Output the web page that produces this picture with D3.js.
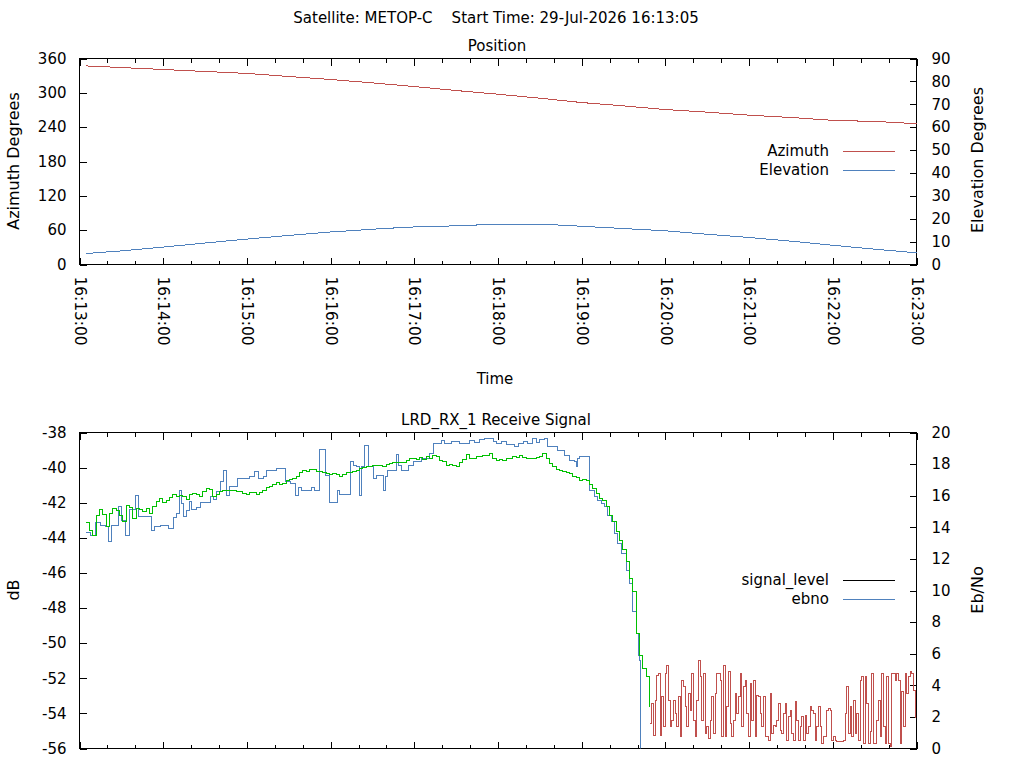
<!DOCTYPE html>
<html lang="en">
<head>
  <meta charset="UTF-8">
  <title>METOP-C pass</title>
  <style>
    body { margin: 0; background: #fff; }
    svg text { font-family: 'DejaVu Sans', sans-serif; font-size: 15px; fill: #000; white-space: pre; }
    svg path.trace { fill: none; shape-rendering: crispEdges; }
  </style>
</head>
<body>
  <svg id="svg" width="1024" height="768"></svg>
  <script src="https://cdn.jsdelivr.net/npm/d3@7"></script>
  <script>
    // all times are seconds after 16:13:00 on the pass day
    const passDay = new Date(2026, 6, 29, 16, 13, 0)

    // Position panel
    const posTimes = [5, 30, 60, 90, 120, 150, 180, 210, 240, 270, 300, 330, 360, 390, 420, 450, 480, 510, 540, 570, 600]
    const azimuth = [347, 344.2, 340.8, 337.3, 333.8, 328.5, 323.3, 317.4, 311, 304, 297.6, 290.6, 283.1, 277.2, 270.9, 266.2, 261, 256.9, 252, 249.9, 246]
    const elevation = [4.8, 5.95, 7.6, 9.4, 11.1, 12.7, 14.2, 15.4, 16.4, 16.9, 17.5, 17.5, 16.7, 15.7, 14.7, 13.2, 11.8, 10.2, 8.4, 6.7, 5.1]

    // signal level in dB, stepped: [time, dB] at each change
    const signalLevel = [
      [4.8, -43.69], [8.1, -43.85], [11.3, -43.13], [14.8, -43.28], [18.4, -43.37], [20.8, -44.21], [23.2, -43.28],
      [27.9, -42.24], [30.3, -42.99], [32.7, -43.85], [35.8, -42.4], [39.9, -41.57], [42.3, -42.77], [51.8, -43.56],
      [53.5, -43.37], [57.8, -43.32], [63.8, -43.45], [67.3, -42.84], [69.7, -42.61], [71.6, -41.32], [73.3, -42.04],
      [74.5, -42.77], [76.9, -42.42], [78.8, -41.95], [80.5, -42.39], [84.1, -42.27], [86.4, -42.01], [93.6, -41.67],
      [96.0, -41.82], [98.4, -41.38], [100.8, -40.77], [103.1, -40.19], [105.5, -41.57], [107.4, -41.06], [113.2, -40.62],
      [122.2, -40.49], [125.8, -40.2], [128.2, -40.62], [131.8, -40.53], [134.2, -40.15], [141.3, -40.05], [148.0, -40.81],
      [150.9, -40.9], [154.5, -41.57], [156.9, -41.13], [159.2, -41.29], [166.4, -41.13], [168.8, -41.29], [172.4, -38.97],
      [176.0, -40.43], [179.1, -41.99], [184.8, -41.29], [186.7, -41.53], [194.3, -39.67], [196.2, -39.86], [198.6, -39.96],
      [201.0, -41.57], [202.2, -39.96], [204.1, -38.72], [207.5, -39.96], [210.6, -40.62], [213.0, -40.43], [217.7, -41.29],
      [219.4, -40.53], [220.6, -40.15], [227.3, -39.24], [228.5, -39.87], [230.8, -40.19], [235.6, -39.87], [239.2, -39.67],
      [245.1, -39.48], [251.1, -39.2], [253.5, -38.63], [259.5, -38.44], [261.9, -38.63], [266.6, -38.53], [272.6, -38.63],
      [279.7, -38.48], [283.3, -38.59], [286.9, -38.4], [290.5, -38.34], [296.5, -38.53], [298.9, -38.63], [302.4, -38.53],
      [306.0, -38.67], [312.0, -38.82], [314.4, -38.63], [318.0, -38.53], [321.5, -38.63], [324.6, -38.34], [327.5, -38.59],
      [329.9, -38.4], [333.5, -38.34], [335.8, -38.82], [343.0, -39.01], [347.8, -39.29], [351.4, -39.58], [354.9, -39.67],
      [356.1, -39.96], [357.3, -39.48], [358.5, -39.39], [365.7, -41.29], [369.3, -41.67], [371.6, -41.86], [374.0, -42.04],
      [376.4, -42.24], [378.8, -42.71], [381.2, -43.09], [383.6, -43.75], [386.0, -44.32], [388.4, -44.89], [392.0, -45.84],
      [394.3, -46.6], [396.2, -48.22], [399.1, -49.45], [400.5, -50.68], [401.5, -50.97], [402.4, -58]
    ]

    // Eb/No while locked, one sample every 2.39 s from 4.8 s
    const ebnoStart = 4.8, ebnoPeriod = 2.39
    const ebno = [
      14.28, 13.82, 13.50, 14.77, 15.10, 14.81, 14.03, 14.87, 15.21, 15.08,
      14.77, 14.37, 15.40, 15.25, 14.56, 15.21, 15.13, 14.98, 15.19, 14.87,
      15.34, 15.65, 15.84, 15.59, 15.67, 15.89, 16.10, 15.95, 15.99, 15.97,
      15.76, 16.10, 16.16, 16.10, 15.92, 16.24, 16.43, 16.39, 15.97, 16.10,
      16.27, 16.35, 16.30, 16.33, 16.35, 16.29, 16.24, 16.14, 16.05, 16.22,
      16.18, 16.10, 16.18, 16.33, 16.49, 16.60, 16.73, 16.85, 16.71, 16.77,
      16.96, 17.03, 17.11, 17.22, 17.44, 17.61, 17.53, 17.68, 17.63, 17.55,
      17.51, 17.47, 17.42, 17.36, 17.38, 17.32, 17.19, 17.36, 17.44, 17.49,
      17.53, 17.59, 17.70, 17.80, 17.85, 17.82, 17.89, 17.93, 17.91, 17.87,
      17.95, 18.06, 18.12, 18.10, 18.08,
      18.12, 18.25, 18.33, 18.37, 18.29, 18.42, 18.29, 18.46, 18.37, 18.56,
      18.50, 18.20, 18.14, 17.93, 17.97, 17.91, 17.82, 18.08, 18.29, 18.61,
      18.33, 18.37, 18.46, 18.50, 18.56, 18.54, 18.67, 18.35, 18.25, 18.29,
      18.20, 18.37, 18.33, 18.46, 18.42, 18.56, 18.42, 18.33, 18.37, 18.33,
      18.42, 18.46, 18.67, 18.33, 18.04, 17.87, 17.66, 17.61, 17.53, 17.49,
      17.38, 17.23, 17.15, 16.98, 17.03, 16.94, 16.73, 16.46, 16.14, 15.80,
      15.67, 15.34, 14.77, 14.34, 13.71, 13.18, 12.59, 11.81, 10.76, 9.91,
      7.28, 5.91, 5.06, 4.53, 2.63
    ]

    // Eb/No after lock is lost, one sample every 1.195 s from 409 s
    const noLockStart = 409, noLockPeriod = 1.195
    const ebnoNoLock = [
      1.58, 2.85, 0.84, 3.06, 4.64, 4.74, 0.84, 3.27, 1.37, 4.74, 5.27, 3.06, 1.37, 1.79, 3.06, 2.21, 1.37, 3.27, 0.74, 4.32,
      3.90, 2.64, 1.37, 3.48, 2.42, 4.74, 1.79, 0.74, 3.06, 5.59, 4.53, 1.79, 4.74, 0.95, 1.37, 0.63, 1.79, 3.27, 0.95, 3.48,
      4.74, 4.74,
      4.32, 0.74, 5.27, 0.74, 2.64, 4.85, 1.58, 0.74, 1.79, 3.48,
      2.21, 3.27, 4.74, 1.37, 3.90, 4.32, 2.21, 0.74, 4.11, 1.79,
      4.32, 0.74, 3.37, 3.27, 2.21, 1.37, 3.27, 0.74, 0.74, 0.53,
      3.48, 0.95, 1.48, 1.37, 1.79, 2.85, 1.16, 0.95, 2.21, 2.85,
      0.53, 2.0, 2.42, 0.95, 0.53, 2.95, 1.79, 0.53, 1.37, 2.0,
      0.53, 2.11, 0.95, 1.37, 2.64, 2.42, 2.21, 0.53, 1.37, 2.64,
      1.37, 0.32, 0.74, 0.74, 2.42, 2.53, 2.42, 0.53, 0.74, 0.53,
      0.42, 0.42, 0.42, 0.42, 0.53,
      2.21, 3.90, 0.95, 2.64, 0.74, 3.06, 0.95, 2.21, 0.53, 4.32,
      4.53, 0.32, 4.53, 2.85, 0.32, 1.05, 4.74, 0.32, 0.32, 1.79,
      3.06, 0.74, 4.74, 1.37, 0.32, 4.53, 0.32, 0.1, 4.74, 4.74,
      4.32, 4.74, 4.32, 0.32, 3.58, 1.37, 4.74, 3.48, 4.53, 4.85,
      4.74, 3.69, 1.90
    ]

    const azTicks = [0, 60, 120, 180, 240, 300, 360]
    const elTicks = [0, 10, 20, 30, 40, 50, 60, 70, 80, 90]
    const dbTicks = [-56, -54, -52, -50, -48, -46, -44, -42, -40, -38]
    const ebTicks = [0, 2, 4, 6, 8, 10, 12, 14, 16, 18, 20]
    const posLegend = ['Azimuth', 'Elevation']
    const sigLegend = ['signal_level', 'ebno']

    const red = '#c0504d', blue = '#4f81bd', green = '#00c000'
    const left = 79.5, right = 916.5
    const top1 = 58.5, bot1 = 264.5
    const top2 = 432.5, bot2 = 748.5

    const at = s => new Date(passDay.getTime() + s * 1000)
    const svg = d3.select('#svg')

    const x = d3.scaleTime().domain([passDay, at(600)]).range([left, right])
    const yAz = d3.scaleLinear().domain([0, 360]).range([bot1, top1])
    const yEl = d3.scaleLinear().domain([0, 90]).range([bot1, top1])
    const yDb = d3.scaleLinear().domain([-56, -38]).range([bot2, top2])
    const yEb = d3.scaleLinear().domain([0, 20]).range([bot2, top2])

    const minutes = x.ticks(d3.timeMinute.every(1))
    const thirds = x.ticks(d3.timeSecond.every(20))
    const clock = d3.timeFormat('%H:%M:%S')
    const plain = d => String(d) // keep an ascii hyphen for negatives

    // inward ticks on all four sides, labels only under the top panel
    function timeAxes(yTop, yBot, labelled) {
      svg.append('g').attr('transform', `translate(0,${yBot})`)
        .call(d3.axisBottom(x).tickValues(thirds).tickSize(-4).tickFormat(''))
      svg.append('g').attr('transform', `translate(0,${yTop})`)
        .call(d3.axisTop(x).tickValues(thirds).tickSize(-4).tickFormat(''))
      svg.append('g').attr('transform', `translate(0,${yTop})`)
        .call(d3.axisTop(x).tickValues(minutes).tickSize(-7).tickFormat(''))
      const g = svg.append('g').attr('transform', `translate(0,${yBot})`)
        .call(d3.axisBottom(x).tickValues(minutes).tickSize(-7).tickFormat(labelled ? clock : ''))
      g.selectAll('text')
        .attr('transform', 'rotate(90)')
        .attr('x', 12).attr('y', 0).attr('dy', '0.35em')
        .style('text-anchor', 'start')
        .style('font-size', '15.4px')
    }

    function valueAxes(yLeft, leftTicks, yRight, rightTicks) {
      svg.append('g').attr('transform', `translate(${left},0)`)
        .call(d3.axisLeft(yLeft).tickValues(leftTicks).tickFormat(plain).tickSize(-7).tickPadding(13))
      svg.append('g').attr('transform', `translate(${right},0)`)
        .call(d3.axisRight(yRight).tickValues(rightTicks).tickFormat(plain).tickSize(-7).tickPadding(15))
    }

    timeAxes(top1, bot1, true)
    timeAxes(top2, bot2, false)
    valueAxes(yAz, azTicks, yEl, elTicks)
    valueAxes(yDb, dbTicks, yEb, ebTicks)

    svg.selectAll('.domain').remove()
    svg.selectAll('.tick line').attr('stroke', '#000').style('shape-rendering', 'crispEdges')

    // frames
    ;[[top1, bot1], [top2, bot2]].forEach(([t, b]) => {
      svg.append('rect')
        .attr('x', left).attr('y', t).attr('width', right - left).attr('height', b - t)
        .attr('fill', 'none').attr('stroke', '#000').style('shape-rendering', 'crispEdges')
    })

    svg.append('clipPath').attr('id', 'clip2')
      .append('rect').attr('x', left).attr('y', top2).attr('width', right - left).attr('height', bot2 - top2)

    // position lines
    const azLine = d3.line().curve(d3.curveMonotoneX).x(d => x(at(d[0]))).y(d => yAz(d[1]))
    const elLine = d3.line().curve(d3.curveMonotoneX).x(d => x(at(d[0]))).y(d => yEl(d[1]))
    svg.append('path').attr('class', 'trace').datum(d3.zip(posTimes, azimuth))
      .attr('d', azLine).attr('stroke', red)
    svg.append('path').attr('class', 'trace').datum(d3.zip(posTimes, elevation))
      .attr('d', elLine).attr('stroke', blue)

    // receive signal lines, drawn as steps
    const sig = svg.append('g').attr('clip-path', 'url(#clip2)')
    const dbLine = d3.line().curve(d3.curveStepAfter).x(d => x(at(d[0]))).y(d => yDb(d[1]))
    const ebLine = d3.line().curve(d3.curveStepAfter).x(d => x(at(d[0]))).y(d => yEb(d[1]))

    sig.append('path').attr('class', 'trace').datum(signalLevel)
      .attr('d', dbLine).attr('stroke', blue)
    sig.append('path').attr('class', 'trace').datum(ebno.map((v, i) => [ebnoStart + i * ebnoPeriod, v]))
      .attr('d', ebLine).attr('stroke', green)
    sig.append('path').attr('class', 'trace').datum(ebnoNoLock.map((v, i) => [noLockStart + i * noLockPeriod, v]))
      .attr('d', ebLine).attr('stroke', red)

    // legends
    function legend(items, colors, y0) {
      items.forEach((name, i) => {
        const y = y0 + i * 19
        svg.append('text').attr('x', 829).attr('y', y).attr('dy', '0.35em')
          .attr('text-anchor', 'end').text(name)
        svg.append('line').attr('x1', 843).attr('x2', 895).attr('y1', y + 0.5).attr('y2', y + 0.5)
          .attr('stroke', colors[i]).style('shape-rendering', 'crispEdges')
      })
    }
    legend(posLegend, [red, blue], 151)
    legend(sigLegend, ['#000', blue], 580)

    // titles
    const label = (txt, px, py, rot) => svg.append('text')
      .attr('transform', `translate(${px},${py})` + (rot ? ` rotate(${rot})` : ''))
      .attr('text-anchor', 'middle').attr('dy', '0.35em')
      .style('font-size', rot ? '16px' : null)
      .text(txt)

    label('Satellite: METOP-C    Start Time: 29-Jul-2026 16:13:05', 496, 18)
    label('Position', 497, 46)
    label('LRD_RX_1 Receive Signal', 496, 420)
    label('Time', 495, 379)
    label('Azimuth Degrees', 13, 161, -90)
    label('Elevation Degrees', 977, 160, -90)
    label('dB', 13, 590, -90)
    label('Eb/No', 977, 590, -90)
  </script>
</body>
</html>
